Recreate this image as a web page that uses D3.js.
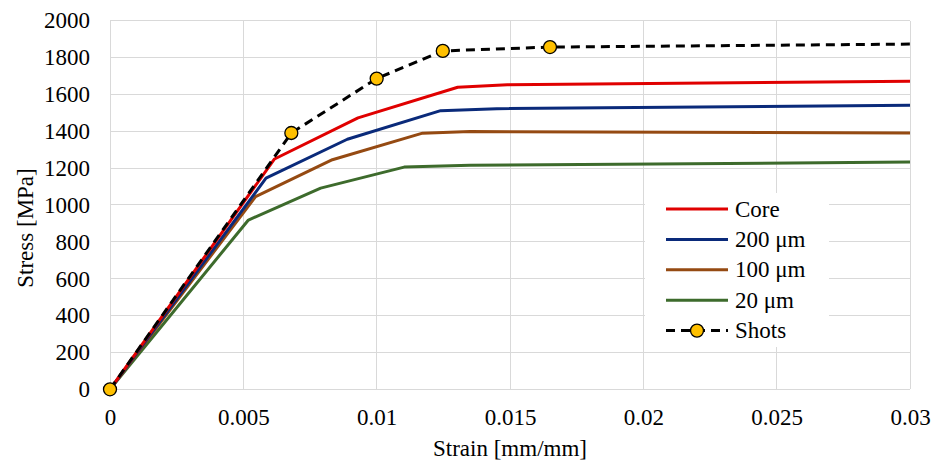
<!DOCTYPE html>
<html>
<head>
<style>
body { margin: 0; background: #fff; }
text { font-family: "Liberation Serif", "Times New Roman", serif; fill: #000; }
.grid line { stroke: #d9d9d9; stroke-width: 1; shape-rendering: crispEdges; }
.axis path, .axis line { display: none; }
</style>
</head>
<body>
<div id="chart"></div>
<script src="https://cdn.jsdelivr.net/npm/d3@7"></script>
<script>
var width = 939, height = 463;
var margins = { top: 20.5, right: 29, bottom: 73.7, left: 110 };
var serif = "'Liberation Serif', 'Times New Roman', serif";

// series
var seriesNames = ["Core", "200 \u03bcm", "100 \u03bcm", "20 \u03bcm"];
var seriesColors = ["#e00000", "#0a2a7a", "#954a12", "#3d6b2c"];
var coreStrain = [0, 0.00617, 0.0093, 0.01304, 0.0149, 0.03];
var coreStress = [0, 1249, 1472, 1638, 1652, 1670];
var um200Strain = [0, 0.00585, 0.0089, 0.0124, 0.0145, 0.03];
var um200Stress = [0, 1145, 1356, 1511, 1522, 1540];
var um100Strain = [0, 0.00546, 0.00834, 0.01172, 0.0135, 0.03];
var um100Stress = [0, 1045, 1245, 1389, 1398, 1390];
var um20Strain = [0, 0.00519, 0.0079, 0.01103, 0.0135, 0.03];
var um20Stress = [0, 918, 1091, 1205, 1215, 1232];
var shotsStrain = [0, 0.0068, 0.01, 0.01248, 0.0165, 0.03];
var shotsStress = [0, 1390, 1685, 1835, 1856, 1872];
var shotsMarked = [true, true, true, true, true, false];

var xTicks = [0, 0.005, 0.01, 0.015, 0.02, 0.025, 0.03];
var yTicks = [0, 200, 400, 600, 800, 1000, 1200, 1400, 1600, 1800, 2000];

var strains = [coreStrain, um200Strain, um100Strain, um20Strain];
var stresses = [coreStress, um200Stress, um100Stress, um20Stress];

var svg = d3.select("#chart").append("svg")
    .attr("width", width)
    .attr("height", height);

var x = d3.scaleLinear().domain([0, 0.03]).range([margins.left, width - margins.right]);
var y = d3.scaleLinear().domain([0, 2000]).range([height - margins.bottom, margins.top]);

// gridlines
var grid = svg.append("g").attr("class", "grid");
grid.selectAll("line.h").data(yTicks).enter().append("line")
    .attr("class", "h")
    .attr("x1", x(0)).attr("x2", x(0.03))
    .attr("y1", function(d) { return y(d); }).attr("y2", function(d) { return y(d); });
grid.selectAll("line.v").data(xTicks).enter().append("line")
    .attr("class", "v")
    .attr("y1", y(0)).attr("y2", y(2000))
    .attr("x1", function(d) { return x(d); }).attr("x2", function(d) { return x(d); });

// axes (labels only)
var xaxis = d3.axisBottom(x).tickValues(xTicks).tickSize(0).tickPadding(19)
    .tickFormat(function(d) { return d === 0 ? "0" : String(+d.toFixed(3)); });
svg.append("g").attr("class", "axis")
    .attr("transform", "translate(0," + y(0) + ")")
    .call(xaxis);

var yaxis = d3.axisLeft(y).tickValues(yTicks).tickSize(0).tickPadding(20)
    .tickFormat(d3.format("d"));
svg.append("g").attr("class", "axis")
    .attr("transform", "translate(" + x(0) + ",0)")
    .call(yaxis);
svg.selectAll(".axis")
    .attr("font-family", serif).attr("font-size", 23)
    .selectAll("text").style("font-family", serif).style("font-size", "23px");

// axis titles
svg.append("text")
    .attr("x", (x(0) + x(0.03)) / 2)
    .attr("y", 456)
    .attr("text-anchor", "middle")
    .style("font-family", serif)
    .style("font-size", "23px")
    .text("Strain [mm/mm]");
svg.append("text")
    .attr("transform", "translate(33,228) rotate(-90)")
    .attr("text-anchor", "middle")
    .style("font-family", serif)
    .style("font-size", "23px")
    .text("Stress [MPa]");

var line = d3.line()
    .x(function(d) { return x(d[0]); })
    .y(function(d) { return y(d[1]); });

// reverse order so Core sits on top
for (var s = strains.length - 1; s >= 0; s--) {
    var pts = d3.zip(strains[s], stresses[s]);
    svg.append("path")
        .datum(pts)
        .attr("fill", "none")
        .attr("stroke", seriesColors[s])
        .attr("stroke-width", 3)
        .attr("stroke-linejoin", "round")
        .attr("d", line);
}

var shotPts = d3.zip(shotsStrain, shotsStress);
svg.append("path")
    .datum(shotPts)
    .attr("fill", "none")
    .attr("stroke", "#000")
    .attr("stroke-width", 3)
    .attr("stroke-dasharray", "9,6")
    .attr("d", line);
svg.selectAll("circle.shot")
    .data(shotPts.filter(function(d, i) { return shotsMarked[i]; }))
    .enter().append("circle")
    .attr("class", "shot")
    .attr("cx", function(d) { return x(d[0]); })
    .attr("cy", function(d) { return y(d[1]); })
    .attr("r", 6.5)
    .attr("fill", "#ffc000")
    .attr("stroke", "#000")
    .attr("stroke-width", 1.3);

// legend
var legend = svg.append("g").attr("transform", "translate(645,193)");
legend.append("rect")
    .attr("width", 184).attr("height", 154)
    .attr("fill", "#fff");
var legNames = seriesNames.concat(["Shots"]);
legNames.forEach(function(name, i) {
    var ly = 16 + i * 30.4;
    var row = legend.append("g").attr("transform", "translate(0," + ly + ")");
    if (i < seriesNames.length) {
        row.append("line")
            .attr("x1", 21).attr("x2", 83)
            .attr("stroke", seriesColors[i])
            .attr("stroke-width", 3);
    } else {
        row.append("line")
            .attr("x1", 21).attr("x2", 83)
            .attr("stroke", "#000")
            .attr("stroke-width", 3)
            .attr("stroke-dasharray", "9,6");
        row.append("circle")
            .attr("cx", 52).attr("r", 6.5)
            .attr("fill", "#ffc000")
            .attr("stroke", "#000")
            .attr("stroke-width", 1.3);
    }
    row.append("text")
        .attr("x", 90)
        .attr("dy", "0.33em")
        .style("font-family", serif)
        .style("font-size", "23px")
        .text(name);
});
</script>
</body>
</html>
